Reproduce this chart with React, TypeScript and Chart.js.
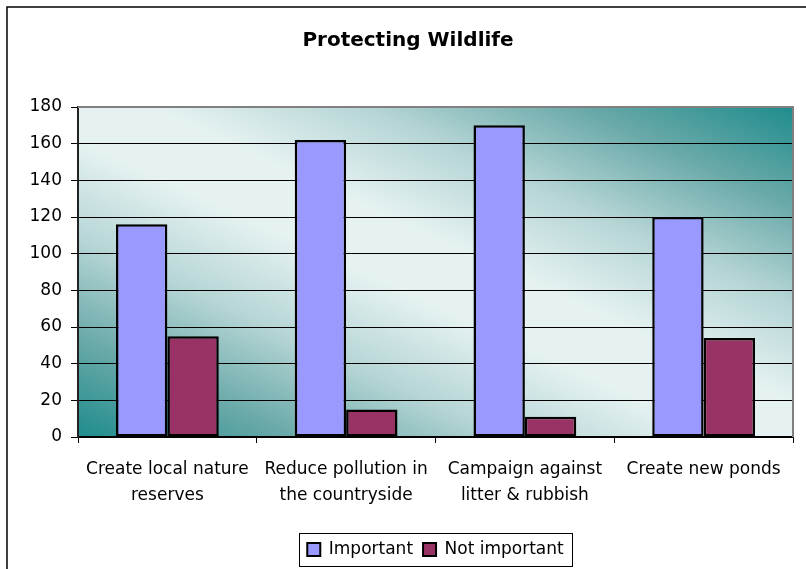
import React, { useEffect, useRef } from "react";
import { Chart, registerables } from "chart.js";

Chart.register(...registerables);

const TITLE = "Protecting Wildlife";
const categories: (string | string[])[] = [
  ["Create local nature", "reserves"],
  ["Reduce pollution in", "the countryside"],
  ["Campaign against", "litter & rubbish"],
  "Create new ponds",
];
const seriesNames = ["Important", "Not important"];
const important = [116, 162, 170, 120];
const notImportant = [55, 15, 11, 54];
const seriesColors = ["#9999FF", "#993366"];
const yMin = 0;
const yMax = 180;
const yStep = 20;

const FONT = "'DejaVu Sans', sans-serif";

const decorPlugin = {
  id: "decor",
  beforeDraw(chart: any) {
    const { ctx, chartArea: a } = chart;
    ctx.save();
    ctx.fillStyle = "#ffffff";
    ctx.fillRect(0, 0, chart.width, chart.height);
    const cx = (a.left + a.right) / 2;
    const cy = (a.top + a.bottom) / 2;
    const w = a.right - a.left;
    const h = a.bottom - a.top;
    const len = Math.hypot(w, h);
    const nx = h / len;
    const ny = -w / len;
    const dist = (w / 2) * nx - (h / 2) * ny;
    const g = ctx.createLinearGradient(cx - nx * dist, cy - ny * dist, cx + nx * dist, cy + ny * dist);
    g.addColorStop(0, "#1f8c8c");
    g.addColorStop(0.15, "#6aa9a9");
    g.addColorStop(0.3, "#b6d5d5");
    g.addColorStop(0.45, "#e6f2f2");
    g.addColorStop(0.55, "#e6f2f2");
    g.addColorStop(0.7, "#b6d5d5");
    g.addColorStop(0.85, "#6aa9a9");
    g.addColorStop(1, "#1f8c8c");
    ctx.fillStyle = g;
    ctx.fillRect(a.left, a.top, w, h);
    ctx.restore();
  },
  afterDraw(chart: any) {
    const { ctx, chartArea: a } = chart;
    ctx.save();
    ctx.strokeStyle = "#808080";
    ctx.lineWidth = 2;
    ctx.beginPath();
    ctx.moveTo(a.left, a.top);
    ctx.lineTo(a.right, a.top);
    ctx.lineTo(a.right, a.bottom);
    ctx.stroke();
    ctx.strokeStyle = "#000000";
    ctx.lineWidth = 1.5;
    ctx.strokeRect(7, 7, chart.width + 20, chart.height + 20);
    ctx.fillStyle = "#000";
    ctx.font = `bold 20px ${FONT}`;
    ctx.textAlign = "center";
    ctx.textBaseline = "middle";
    ctx.fillText(TITLE, 408, 41);
    const lg = chart.legend;
    if (lg && lg.legendHitBoxes && lg.legendHitBoxes.length) {
      const hb = lg.legendHitBoxes;
      const first = hb[0];
      const last = hb[hb.length - 1];
      const left = first.left - 8;
      const right = last.left + last.width + 9;
      const top = first.top - 8;
      const bottom = first.top + first.height + 8;
      ctx.strokeStyle = "#000";
      ctx.lineWidth = 1;
      ctx.strokeRect(Math.round(left) + 0.5, Math.round(top) + 0.5, Math.round(right - left), Math.round(bottom - top));
    }
    ctx.restore();
  },
};

export default function App() {
  const ref = useRef<HTMLCanvasElement>(null);
  useEffect(() => {
    if (!ref.current) return;
    Chart.defaults.color = "#000";
    const chart = new Chart(ref.current, {
      type: "bar",
      data: {
        labels: categories,
        datasets: [
          {
            label: seriesNames[0],
            data: important,
            backgroundColor: seriesColors[0],
            borderColor: "#000",
            borderWidth: 2.5,
            borderSkipped: false,
          },
          {
            label: seriesNames[1],
            data: notImportant,
            backgroundColor: seriesColors[1],
            borderColor: "#000",
            borderWidth: 2.5,
            borderSkipped: false,
          },
        ],
      },
      options: {
        animation: false,
        responsive: false,
        maintainAspectRatio: false,
        layout: { padding: { top: 107, left: 0, right: 13, bottom: 1 } },
        datasets: { bar: { categoryPercentage: 0.575, barPercentage: 1 } },
        plugins: {
          title: { display: false },
          tooltip: { enabled: false },
          legend: {
            position: "bottom",
            fullSize: false,
            labels: {
              font: { family: FONT, size: 17 },
              color: "#000",
              boxWidth: 13,
              boxHeight: 13,
              padding: 10,
              generateLabels: (chart: any) =>
                chart.data.datasets.map((ds: any, i: number) => ({
                  text: ds.label,
                  fillStyle: ds.backgroundColor,
                  strokeStyle: "#000",
                  lineWidth: 2,
                  hidden: false,
                  datasetIndex: i,
                })),
            },
          },
        },
        scales: {
          x: {
            afterFit: (s: any) => {
              s.height = 94;
            },
            grid: {
              offset: true,
              drawOnChartArea: false,
              drawTicks: true,
              tickLength: 6,
              color: "#000",
              lineWidth: 1,
            },
            border: { display: true, color: "#000", width: 1.5 },
            ticks: {
              font: { family: FONT, size: 17, lineHeight: 1.53 },
              color: "#000",
              padding: 14,
              maxRotation: 0,
              autoSkip: false,
            },
          },
          y: {
            min: yMin,
            max: yMax,
            afterFit: (s: any) => {
              s.width = 78;
            },
            grid: {
              color: (c: any) => (c.tick && c.tick.value === yMax ? "rgba(0,0,0,0)" : "#000"),
              lineWidth: 1,
              drawTicks: true,
              tickLength: 7,
              tickColor: "#000",
            },
            border: { display: true, color: "#222", width: 2 },
            ticks: {
              stepSize: yStep,
              font: { family: FONT, size: 17 },
              color: "#000",
              padding: 9,
            },
          },
        },
      },
      plugins: [decorPlugin],
    } as any);
    return () => chart.destroy();
  }, []);
  return (
    <div style={{ position: "absolute", left: 0, top: 0, width: 806, height: 569 }}>
      <canvas ref={ref} width={806} height={569} style={{ display: "block", width: 806, height: 569 }} />
    </div>
  );
}
